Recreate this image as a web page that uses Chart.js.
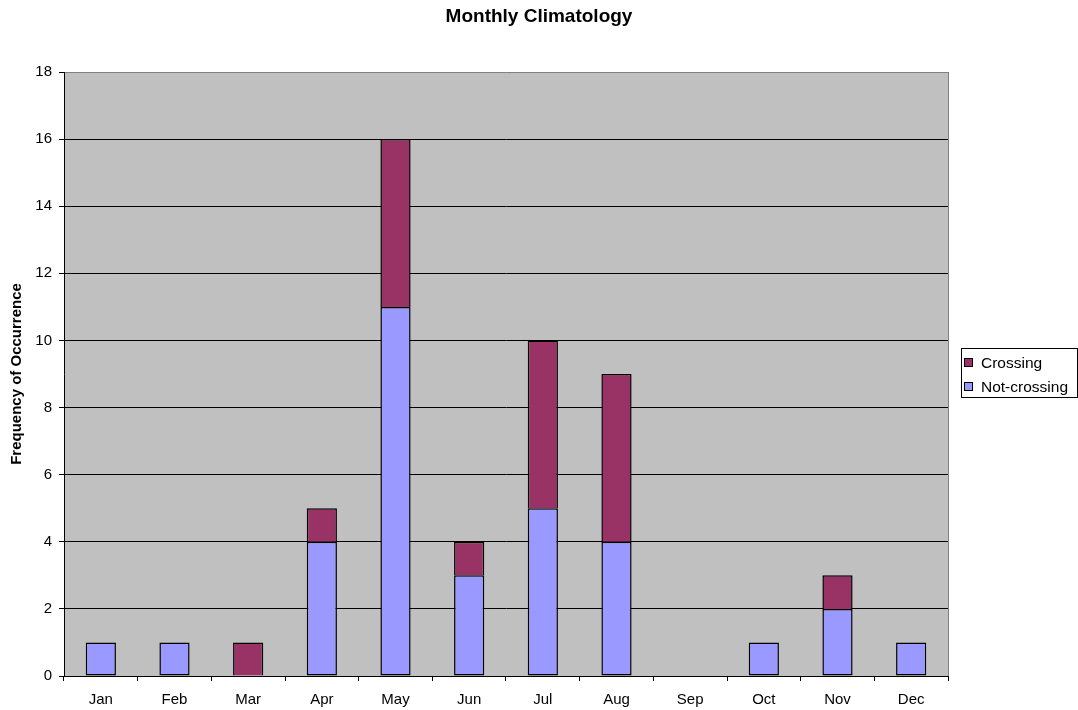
<!DOCTYPE html>
<html>
<head>
<meta charset="utf-8">
<script src="https://cdn.jsdelivr.net/npm/chart.js@4/dist/chart.umd.min.js"></script>
<style>
  html, body { margin: 0; padding: 0; background: #fff; }
  #wrap { width: 1078px; height: 710px; }
</style>
</head>
<body>
<div id="wrap"><canvas id="climChart" width="1078" height="710"></canvas></div>
<script>
const months = ['Jan', 'Feb', 'Mar', 'Apr', 'May', 'Jun', 'Jul', 'Aug', 'Sep', 'Oct', 'Nov', 'Dec'];
const notCrossing = [1, 1, 0, 4, 11, 3, 5, 4, 0, 1, 2, 1];
const crossing = [0, 0, 1, 1, 5, 1, 5, 5, 0, 0, 1, 0];
const yTicks = [0, 2, 4, 6, 8, 10, 12, 14, 16, 18];
const chartTitle = 'Monthly Climatology';

const FONT = 'Arial, "Liberation Sans", sans-serif';
Chart.defaults.font.family = FONT;
Chart.defaults.font.size = 15;
Chart.defaults.color = '#000';

// gray plot background, gray right border, title centred on the whole canvas
const plotArea = {
    id: 'plotArea',
    beforeDraw(chart) {
        const { ctx, chartArea: a } = chart;
        ctx.save();
        ctx.fillStyle = '#C0C0C0';
        ctx.fillRect(a.left, a.top, a.right - a.left, a.bottom - a.top);
        ctx.restore();
    },
    afterDatasetsDraw(chart) {
        const { ctx, chartArea: a } = chart;
        ctx.save();
        ctx.strokeStyle = '#808080';
        ctx.lineWidth = 1;
        ctx.beginPath();
        ctx.moveTo(a.right + 0.5, a.top);
        ctx.lineTo(a.right + 0.5, a.bottom);
        ctx.stroke();
        ctx.fillStyle = '#000';
        ctx.font = 'bold 19px ' + FONT;
        ctx.textAlign = 'center';
        ctx.textBaseline = 'alphabetic';
        ctx.fillText(chartTitle, chart.width / 2, 22);
        ctx.restore();
    }
};

// boxed legend on the right, Crossing listed first
const boxLegend = {
    id: 'boxLegend',
    afterDraw(chart) {
        const { ctx } = chart;
        const x = 961.5, y = 348.5, w = 116, h = 49;
        ctx.save();
        ctx.fillStyle = '#fff';
        ctx.fillRect(x, y, w, h);
        ctx.strokeStyle = '#000';
        ctx.lineWidth = 1;
        ctx.strokeRect(x, y, w, h);
        const items = [chart.data.datasets[1], chart.data.datasets[0]];
        ctx.font = '15.5px ' + FONT;
        ctx.textBaseline = 'middle';
        items.forEach((ds, i) => {
            const cy = 363 + i * 24;
            ctx.fillStyle = ds.backgroundColor;
            ctx.fillRect(964.5, cy - 4.5, 8, 8);
            ctx.strokeRect(964.5, cy - 4.5, 8, 8);
            ctx.fillStyle = '#000';
            ctx.fillText(ds.label, 981, cy + 1);
        });
        ctx.restore();
    }
};

new Chart(document.getElementById('climChart').getContext('2d'), {
    type: 'bar',
    data: {
        labels: months,
        datasets: [
            {
                label: 'Not-crossing',
                data: notCrossing,
                backgroundColor: '#9999FF',
                borderColor: '#000',
                borderWidth: 1.5,
                borderSkipped: false,
                categoryPercentage: 1,
                barPercentage: 0.41
            },
            {
                label: 'Crossing',
                data: crossing,
                backgroundColor: '#993366',
                borderColor: '#000',
                borderWidth: 1.5,
                borderSkipped: 'start',
                categoryPercentage: 1,
                barPercentage: 0.41
            }
        ]
    },
    options: {
        responsive: false,
        animation: false,
        layout: { padding: { left: 0, right: 130, top: 72, bottom: 0 } },
        plugins: {
            legend: { display: false },
            tooltip: { enabled: false },
            title: { display: false }
        },
        scales: {
            x: {
                stacked: true,
                grid: { offset: true, drawOnChartArea: false, drawTicks: true, tickLength: 5, color: '#000' },
                border: { color: '#000' },
                ticks: { padding: 10, font: { size: 15 } },
                afterFit(scale) { scale.height = 34; }
            },
            y: {
                stacked: true,
                min: 0,
                max: 18,
                afterBuildTicks(scale) { scale.ticks = yTicks.map(v => ({ value: v })); },
                grid: {
                    color: ctx => (ctx.tick && ctx.tick.value === 18 ? '#808080' : '#000'),
                    tickColor: '#000',
                    tickLength: 5
                },
                border: { color: '#000' },
                ticks: { padding: 7, font: { size: 15 } },
                title: {
                    display: true,
                    text: 'Frequency of Occurrence',
                    font: { size: 15, weight: 'bold' },
                    padding: { top: 8, bottom: 0 }
                },
                afterFit(scale) { scale.width = 64; }
            }
        }
    },
    plugins: [plotArea, boxLegend]
});
</script>
</body>
</html>
